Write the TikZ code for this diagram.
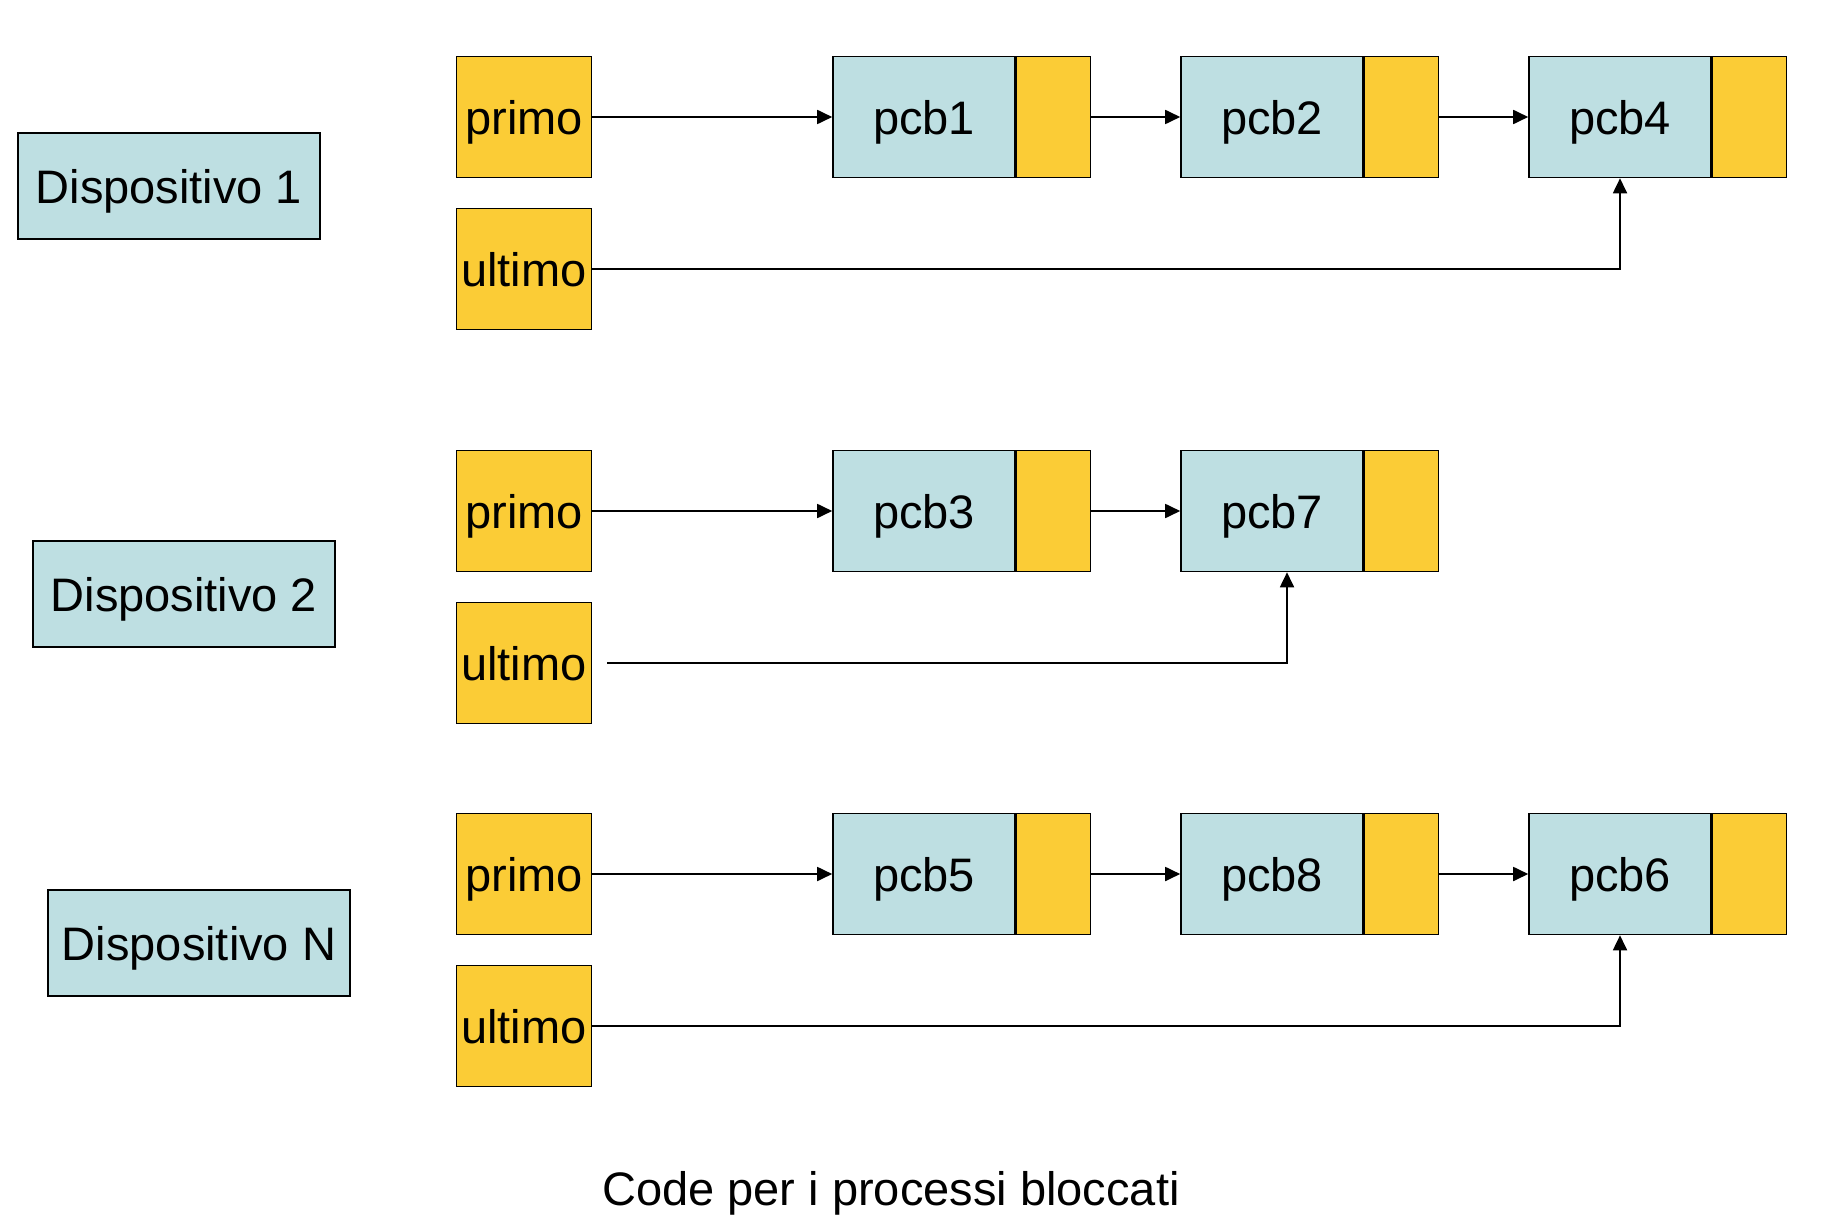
\documentclass[tikz,border=0pt]{standalone}
\usepackage{fontspec}
\setmainfont{Liberation Sans}
\usetikzlibrary{arrows.meta}
\definecolor{azzurro}{RGB}{190,223,226}
\definecolor{giallo}{RGB}{251,204,54}
\tikzset{
  dispbox/.style={draw, fill=azzurro, line width=1.6pt, minimum width=302pt, minimum height=106pt, inner sep=0pt, text depth=0pt},
  ptrbox/.style={draw, fill=giallo, line width=1.6pt, minimum width=135pt, minimum height=121pt, inner sep=0pt, text depth=0pt},
  pcbbox/.style={draw, fill=azzurro, line width=1.6pt, minimum width=182pt, minimum height=121pt, inner sep=0pt, text depth=0pt},
  nextbox/.style={draw, fill=giallo, line width=1.6pt, minimum width=74pt, minimum height=121pt, inner sep=0pt, anchor=west},
  link/.style={-{Triangle[length=15pt,width=14pt]}, line width=1.8pt}
}
\begin{document}
\begin{tikzpicture}[x=1pt, y=-1pt, font=\fontsize{47}{56}\selectfont, line join=miter]
	\useasboundingbox (0,0) rectangle (1846,1230);
	% dispositivi
	\node[dispbox] (d1) at (169,186) {Dispositivo 1};
	\node[dispbox] (d2) at (184,594) {Dispositivo 2};
	\node[dispbox] (dN) at (199,943) {Dispositivo N};
	% puntatori primo / ultimo
	\node[ptrbox] (pri1) at (524,117) {primo};
	\node[ptrbox] (ult1) at (524,269) {ultimo};
	\node[ptrbox] (pri2) at (524,511) {primo};
	\node[ptrbox] (ult2) at (524,663) {ultimo};
	\node[ptrbox] (pri3) at (524,874) {primo};
	\node[ptrbox] (ult3) at (524,1026) {ultimo};
	% pcb
	\node[pcbbox] (pcb1) at (924,117) {pcb1}; \node[nextbox] (n1) at (pcb1.east) {};
	\node[pcbbox] (pcb2) at (1272,117) {pcb2}; \node[nextbox] (n2) at (pcb2.east) {};
	\node[pcbbox] (pcb4) at (1620,117) {pcb4}; \node[nextbox] (n4) at (pcb4.east) {};
	\node[pcbbox] (pcb3) at (924,511) {pcb3}; \node[nextbox] (n3) at (pcb3.east) {};
	\node[pcbbox] (pcb7) at (1272,511) {pcb7}; \node[nextbox] (n7) at (pcb7.east) {};
	\node[pcbbox] (pcb5) at (924,874) {pcb5}; \node[nextbox] (n5) at (pcb5.east) {};
	\node[pcbbox] (pcb8) at (1272,874) {pcb8}; \node[nextbox] (n8) at (pcb8.east) {};
	\node[pcbbox] (pcb6) at (1620,874) {pcb6}; \node[nextbox] (n6) at (pcb6.east) {};
	% collegamenti
	\draw[link] (pri1.east) -- (pcb1.west);
	\draw[link] (n1.east) -- (pcb2.west);
	\draw[link] (n2.east) -- (pcb4.west);
	\draw[link] (ult1.east) -| (pcb4.south);
	\draw[link] (pri2.east) -- (pcb3.west);
	\draw[link] (n3.east) -- (pcb7.west);
	\draw[link] ([xshift=15pt]ult2.east) -| ([xshift=15pt]pcb7.south);
	\draw[link] (pri3.east) -- (pcb5.west);
	\draw[link] (n5.east) -- (pcb8.west);
	\draw[link] (n8.east) -- (pcb6.west);
	\draw[link] (ult3.east) -| (pcb6.south);
	\node[anchor=base] (titolo) at (891,1205) {Code per i processi bloccati};
\end{tikzpicture}
\end{document}
